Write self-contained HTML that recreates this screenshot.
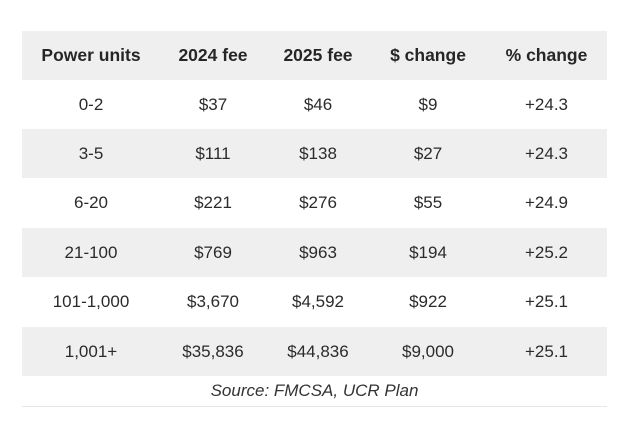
<!DOCTYPE html>
<html><head><meta charset="utf-8"><style>
body{margin:0;width:636px;height:422px;background:#fff;font-family:"Liberation Sans",sans-serif;color:#2b2b2b;position:relative;overflow:hidden}
.row{position:absolute;left:22px;width:585px;height:49px}
.g{background:#efefef}
.c{position:absolute;top:0;height:100%;display:flex;align-items:center;justify-content:center;font-size:17px}
.h .c{font-weight:bold;font-size:17.5px;color:#262626}
.src{position:absolute;left:22px;width:585px;top:376px;height:30px;border-bottom:1px solid #e6e6e6;text-align:center;font-style:italic;font-size:17px;line-height:30px;color:#333}
</style></head><body>
<div id="t"></div>
<div class="src">Source: FMCSA, UCR Plan</div>
<script>
const headers=["Power units","2024 fee","2025 fee","$ change","% change"];
const units=["0-2","3-5","6-20","21-100","101-1,000","1,001+"];
const fee2024=["$37","$111","$221","$769","$3,670","$35,836"];
const fee2025=["$46","$138","$276","$963","$4,592","$44,836"];
const dollarChange=["$9","$27","$55","$194","$922","$9,000"];
const pctChange=["+24.3","+24.3","+24.9","+25.2","+25.1","+25.1"];
const edges=[0,138,244,348,464,585];
const t=document.getElementById('t');
function makeRow(vals,top,cls,name){
  const r=document.createElement('div');
  r.className='row '+cls;
  r.style.top=top+'px';
  
  
  vals.forEach((v,i)=>{
    const c=document.createElement('div');
    c.className='c';
    c.style.left=edges[i]+'px';
    c.style.width=(edges[i+1]-edges[i])+'px';
    c.textContent=v;
    
    
    r.appendChild(c);
  });
  t.appendChild(r);
}
makeRow(headers,31,'g h','header-row');
units.forEach((u,i)=>{
  makeRow([u,fee2024[i],fee2025[i],dollarChange[i],pctChange[i]],80+i*49.4,i%2?'g':'','row-'+u.replace(/[^0-9]+/g,'-'));
});
</script>
</body></html>
